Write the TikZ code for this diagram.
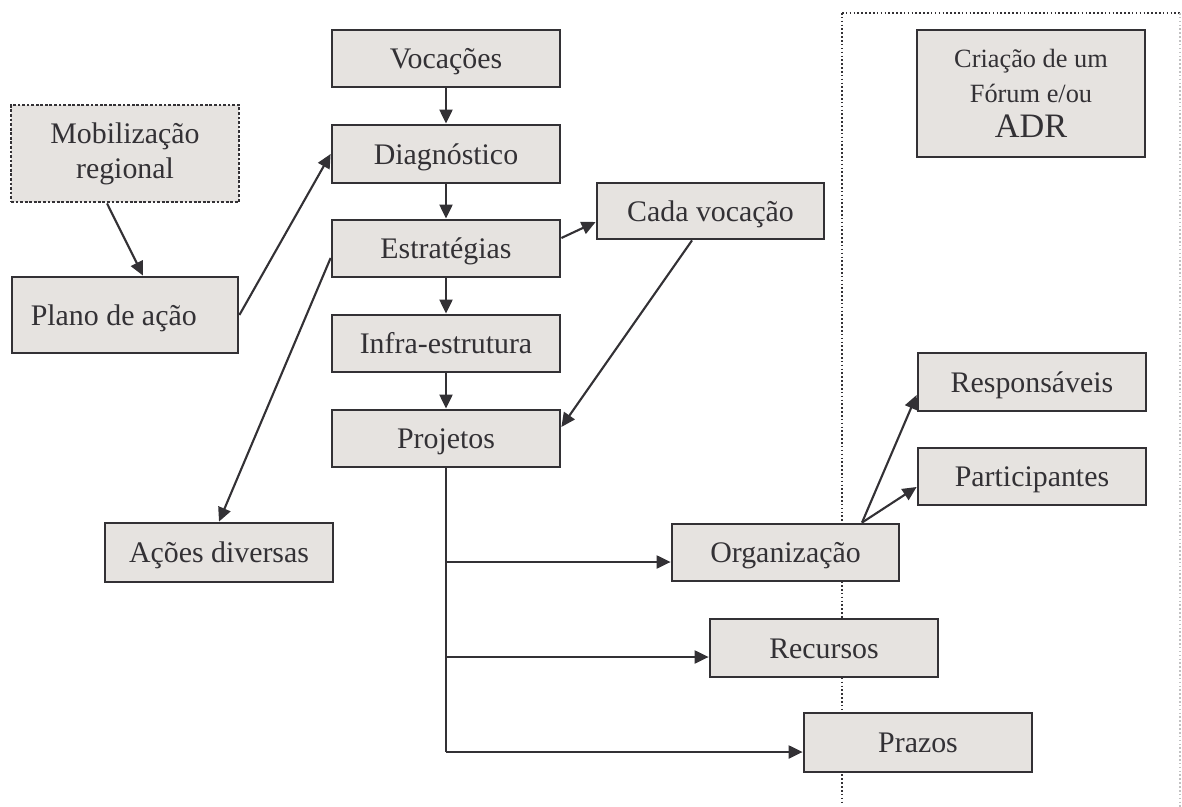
\documentclass[tikz,border=0pt]{standalone}
\usepackage{fontspec}
\setmainfont{Liberation Serif}
\usetikzlibrary{arrows.meta,calc}
\definecolor{boxfill}{HTML}{E6E3E0}
\definecolor{edge}{HTML}{333135}
\tikzset{
  bx/.style={draw=edge, fill=boxfill, line width=1.6pt, inner sep=0pt, text=edge,
    font=\fontsize{17}{20}\selectfont, align=center},
  one/.style={text height=11.4pt, text depth=0pt},
  conn/.style={draw=edge, line width=1.2pt, -{Triangle[length=0.28cm,width=0.26cm]}},
  plain/.style={draw=edge, line width=1.2pt},
  sep/.style={draw=edge, line width=1.2pt, dash pattern=on 0.9pt off 1.3pt},
}
\begin{document}
\begin{tikzpicture}[x=0.02cm,y=-0.02cm]
\useasboundingbox (0,0) rectangle (1182,807);
% separators
\draw[sep] (842,13) -- (842,803);
\draw[sep] (842,13) -- (1182,13);
\draw[sep, draw=edge!30] (1180,13) -- (1180,807);
% boxes
\node[bx, one, minimum width=4.56cm, minimum height=1.14cm] (voc) at (446,58.5) {Vocações};
\node[bx, one, minimum width=4.56cm, minimum height=1.16cm] (diag) at (446,154) {Diagnóstico};
\node[bx, one, minimum width=4.56cm, minimum height=1.14cm] (estr) at (446,248.5) {Estratégias};
\node[bx, one, minimum width=4.56cm, minimum height=1.14cm] (infra) at (446,343.5) {Infra-estrutura};
\node[bx, one, minimum width=4.56cm, minimum height=1.14cm] (proj) at (446,438.5) {Projetos};
\node[bx, one, minimum width=4.54cm, minimum height=1.12cm] (cada) at (710.5,211) {Cada vocação};
\node[bx, minimum width=4.56cm, minimum height=1.94cm, densely dotted, line width=1.6pt] (mob) at (125,153.5) {Mobilização\\regional};
\node[bx, one, minimum width=4.52cm, minimum height=1.52cm] (plano) at (125,315) {Plano de ação\hspace*{0.45cm}};
\node[bx, one, minimum width=4.56cm, minimum height=1.18cm] (acoes) at (219,552.5) {Ações diversas};
\node[bx, minimum width=4.56cm, minimum height=2.54cm] (forum) at (1031,93.5) {{\fontsize{15}{19.5}\selectfont Criação de um}\\{\fontsize{15}{19.5}\selectfont Fórum e/ou}\\{\fontsize{19.5}{22}\selectfont ADR}};
\node[bx, one, minimum width=4.56cm, minimum height=1.16cm] (resp) at (1032,382) {Responsáveis};
\node[bx, one, minimum width=4.56cm, minimum height=1.14cm] (part) at (1032,476.5) {Participantes};
\node[bx, one, minimum width=4.54cm, minimum height=1.14cm] (org) at (785.5,552.5) {Organização};
\node[bx, one, minimum width=4.56cm, minimum height=1.16cm] (rec) at (824,648) {Recursos};
\node[bx, one, minimum width=4.56cm, minimum height=1.18cm] (praz) at (918,742.5) {Prazos};
% vertical chain
\draw[conn] (voc) -- (diag);
\draw[conn] (diag) -- (estr);
\draw[conn] (estr) -- (infra);
\draw[conn] (infra) -- (proj);
% other connectors
\draw[conn] ([xshift=-0.36cm]mob.south) -- ([xshift=0.36cm]plano.north);
\draw[conn] (plano.east) -- (diag.west);
\draw[conn] ([yshift=-0.19cm]estr.west) -- (acoes.north);
\draw[conn] ([yshift=0.21cm]estr.east) -- ([yshift=-0.22cm]cada.west);
\draw[conn] ([xshift=-0.37cm]cada.south) -- ([yshift=0.23cm]proj.east);
\draw[conn] ([xshift=1.53cm]org.north) -- ([yshift=-0.26cm]resp.west);
\draw[conn] ([xshift=1.53cm]org.north) -- ([yshift=-0.21cm]part.west);
% trunk
\coordinate (b1) at (446,562);
\coordinate (b2) at (446,657);
\coordinate (b3) at (446,752);
\draw[plain] (proj.south) -- (b3);
\draw[conn] (b1) -- (b1 -| org.west);
\draw[conn] (b2) -- (b2 -| rec.west);
\draw[conn] (b3) -- (b3 -| praz.west);
\end{tikzpicture}
\end{document}
